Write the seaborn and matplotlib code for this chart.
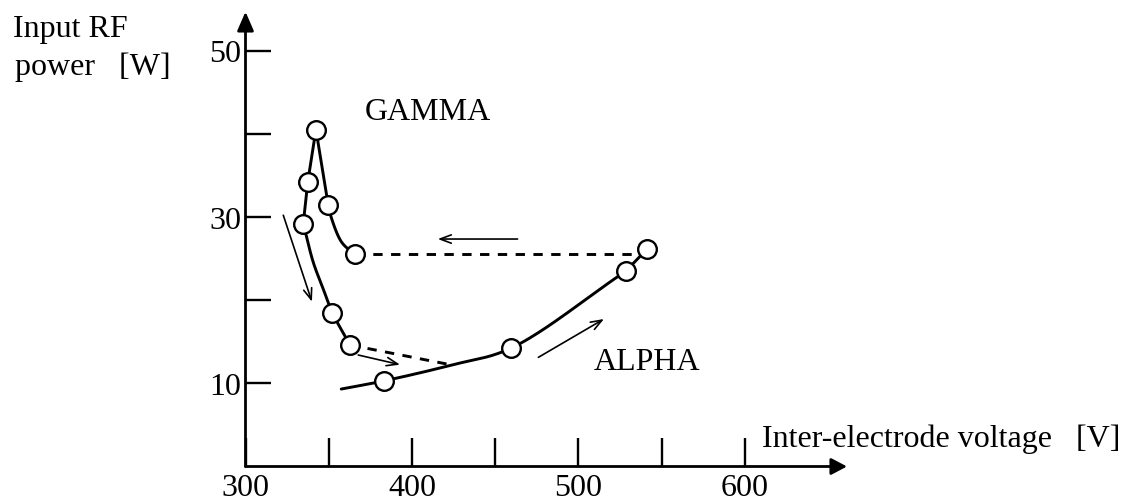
import numpy as np
import matplotlib
matplotlib.use("Agg")
import matplotlib.pyplot as plt
import seaborn as sns

# ---- data ----
# open-circle measurement points: voltage [V], power [W]
gamma_v = [342.3, 337.4, 334.7, 349.7, 365.5, 541.0]
gamma_p = [40.5, 34.2, 29.2, 31.4, 25.5, 26.1]
alpha_v = [352.1, 362.8, 383.4, 459.2, 528.5]
alpha_p = [18.5, 14.6, 10.3, 14.2, 23.5]

# curve anchor points
peak_v = [334.7, 337.4, 342.3, 349.7]
peak_p = [29.2, 34.2, 40.5, 31.4]
knee_v = [349.7, 351.8, 357.8, 365.5]
knee_p = [31.4, 29.75, 26.95, 25.5]
lower_v = [334.7, 340.7, 346.7, 352.1, 362.8]
lower_p = [29.2, 24.54, 21.33, 18.5, 14.6]
alpha_curve_v = [357.5, 383.4, 423.9, 459.2, 528.5]
alpha_curve_p = [9.31, 10.3, 12.2, 14.2, 23.5]
tail_v = [528.5, 541.0]
tail_p = [23.5, 26.1]
jump_down_v = [362.8, 423.9]
jump_down_p = [14.6, 12.2]
jump_up_v = [365.5, 541.0]
jump_up_p = [25.5, 25.5]

x_ticks_major = [300, 400, 500, 600]
x_tick_labels = ["300", "400", "500", "600"]
x_ticks_minor = [350, 450, 550]
y_ticks_major = [10, 30, 50]
y_tick_labels = ["10", "30", "50"]
y_ticks_minor = [20, 40]

# arrows: (start, end) in data units
arrows = [((322.7, 30.2), (339.9, 19.8)),
          ((367.7, 13.4), (392.8, 12.24)),
          ((463.4, 27.34), (415.5, 27.34)),
          ((475.9, 13.12), (515.3, 17.73))]

sns.set_style("white")
plt.rcParams["font.family"] = ["Liberation Serif", "DejaVu Serif"]
plt.rcParams["text.color"] = "black"
plt.rcParams["xtick.labelcolor"] = "black"
plt.rcParams["ytick.labelcolor"] = "black"

FS = 23
W, H = 1126, 502
PX_V, PX_P = 1.665, 8.32   # pixels per volt / per watt
fig = plt.figure(figsize=(W / 100, H / 100), dpi=100)
x0, y0, x1, y1 = 245.5, 467.5, 847.0, 12.7
ax = fig.add_axes([x0 / W, (H - y0) / H, (x1 - x0) / W, (y0 - y1) / H])
ax.set_xlim(300, 300 + (x1 - x0) / PX_V)
ax.set_ylim(0, (y0 - y1) / PX_P)
ax.set_facecolor("white")


def smooth_curve(xs, ys, n=40):
    """Centripetal Catmull-Rom drawn through the anchor points."""
    P = np.column_stack([np.asarray(xs) * PX_V, np.asarray(ys) * PX_P])
    E = np.vstack([2 * P[0] - P[1], P, 2 * P[-1] - P[-2]])
    out = []
    for i in range(1, len(E) - 2):
        p0, p1, p2, p3 = E[i - 1], E[i], E[i + 1], E[i + 2]
        t0 = 0.0
        t1 = t0 + np.linalg.norm(p1 - p0) ** 0.5
        t2 = t1 + np.linalg.norm(p2 - p1) ** 0.5
        t3 = t2 + np.linalg.norm(p3 - p2) ** 0.5
        t = np.linspace(t1, t2, n)[:, None]
        A1 = (t1 - t) / (t1 - t0) * p0 + (t - t0) / (t1 - t0) * p1
        A2 = (t2 - t) / (t2 - t1) * p1 + (t - t1) / (t2 - t1) * p2
        A3 = (t3 - t) / (t3 - t2) * p2 + (t - t2) / (t3 - t2) * p3
        B1 = (t2 - t) / (t2 - t0) * A1 + (t - t0) / (t2 - t0) * A2
        B2 = (t3 - t) / (t3 - t1) * A2 + (t - t1) / (t3 - t1) * A3
        C = (t2 - t) / (t2 - t1) * B1 + (t - t1) / (t2 - t1) * B2
        out.append(C if i == 1 else C[1:])
    S = np.vstack(out)
    return S[:, 0] / PX_V, S[:, 1] / PX_P


LW = 2.1
def line(xs, ys, **kw):
    sns.lineplot(x=list(xs), y=list(ys), sort=False, estimator=None,
                 color="black", lw=LW, ax=ax, zorder=3, **kw)

line(peak_v, peak_p)
line(*smooth_curve(knee_v, knee_p))
line(*smooth_curve(lower_v, lower_p))
line(*smooth_curve(alpha_curve_v, alpha_curve_p))
line(tail_v, tail_p)
dash = (0, (3.2, 2.9))
line(jump_down_v, jump_down_p, linestyle=dash)
line(jump_up_v, jump_up_p, linestyle=dash)

sns.scatterplot(x=gamma_v + alpha_v, y=gamma_p + alpha_p, marker="o", s=180,
                color="white", edgecolor="black", linewidth=1.7, zorder=5,
                ax=ax, clip_on=False)

for (sx, sy), (ex, ey) in arrows:
    ax.annotate("", xy=(ex, ey), xytext=(sx, sy),
                arrowprops=dict(arrowstyle="->,head_length=0.8,head_width=0.3",
                                lw=1.2, color="black", shrinkA=0, shrinkB=0,
                                mutation_scale=10))

# axes with arrow heads
for s in ax.spines.values():
    s.set_visible(False)
ax.annotate("", xy=(1, 0), xytext=(0, 0), xycoords="axes fraction",
            arrowprops=dict(arrowstyle="-|>,head_length=0.95,head_width=0.5",
                            lw=2.0, color="black", shrinkA=0, shrinkB=0,
                            mutation_scale=10), annotation_clip=False)
ax.annotate("", xy=(0, 1), xytext=(0, 0), xycoords="axes fraction",
            arrowprops=dict(arrowstyle="-|>,head_length=1.15,head_width=0.5",
                            lw=2.0, color="black", shrinkA=0, shrinkB=0,
                            mutation_scale=10), annotation_clip=False)

ax.set_xticks(x_ticks_major, x_tick_labels)
ax.set_xticks(x_ticks_minor, minor=True)
ax.set_yticks(y_ticks_major, y_tick_labels)
ax.set_yticks(y_ticks_minor, minor=True)
ax.tick_params(axis="x", which="both", direction="in", length=21, width=1.7,
               color="black", labelcolor="black", labelsize=FS, pad=5,
               bottom=True)
ax.tick_params(axis="y", which="both", direction="in", length=18, width=1.7,
               color="black", labelcolor="black", labelsize=FS, pad=3,
               left=True)
ax.grid(False)

ax.text(371.8, 41.77, "GAMMA", fontsize=FS, color="black", ha="left", va="baseline")
ax.text(508.9, 11.72, "ALPHA", fontsize=FS, color="black", ha="left", va="baseline")

fig.text(13 / W, 1 - 36.7 / H, "Input RF", fontsize=FS, color="black",
         ha="left", va="baseline")
fig.text(15 / W, 1 - 75 / H, "power   [W]", fontsize=FS, color="black",
         ha="left", va="baseline")
fig.text(762 / W, 1 - 447 / H, "Inter-electrode voltage   [V]", fontsize=FS,
         color="black", ha="left", va="baseline")

fig.savefig("out.png", dpi=100, facecolor="white")
